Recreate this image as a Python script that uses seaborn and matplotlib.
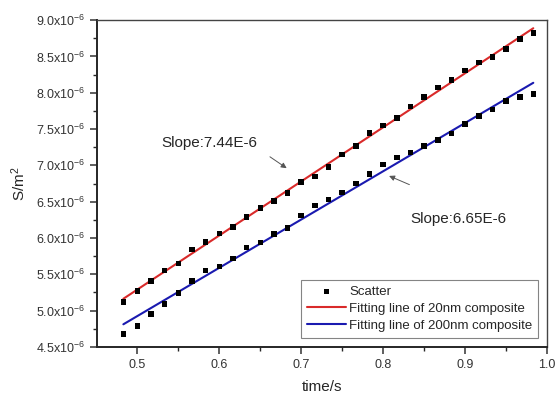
import numpy as np
import pandas as pd
import seaborn as sns
import matplotlib.pyplot as plt
import matplotlib.ticker as ticker

# data, S/m^2 values in units of 1e-6
time_s = [0.483, 0.500, 0.517, 0.533, 0.550, 0.567, 0.583, 0.600, 0.617, 0.633,
          0.650, 0.667, 0.683, 0.700, 0.717, 0.733, 0.750, 0.767, 0.783, 0.800,
          0.817, 0.833, 0.850, 0.867, 0.883, 0.900, 0.917, 0.933, 0.950, 0.967, 0.983]
s_20nm = [5.12, 5.27, 5.41, 5.55, 5.65, 5.84, 5.945, 6.06, 6.15, 6.29,
          6.41, 6.51, 6.62, 6.775, 6.85, 6.98, 7.15, 7.27, 7.45, 7.55,
          7.65, 7.81, 7.945, 8.07, 8.175, 8.31, 8.42, 8.49, 8.60, 8.74, 8.825]
s_200nm = [4.68, 4.79, 4.955, 5.09, 5.24, 5.41, 5.55, 5.605, 5.72, 5.87,
           5.94, 6.055, 6.14, 6.31, 6.445, 6.53, 6.625, 6.75, 6.88, 7.01,
           7.11, 7.18, 7.27, 7.35, 7.44, 7.57, 7.68, 7.77, 7.885, 7.945, 7.98]
series_labels = ["Fitting line of 20nm composite", "Fitting line of 200nm composite"]
slope_labels = ["Slope:7.44E-6", "Slope:6.65E-6"]

df = pd.DataFrame({"t": time_s, "s20": s_20nm, "s200": s_200nm})

sns.set_style("ticks")
plt.rcParams['font.family'] = ['Liberation Sans', 'DejaVu Sans']
plt.rcParams['mathtext.fontset'] = 'custom'
plt.rcParams['mathtext.rm'] = 'Liberation Sans'
plt.rcParams['mathtext.it'] = 'Liberation Sans'

fig = plt.figure(figsize=(5.55, 3.96), dpi=100)
axs = fig.add_axes([0.175, 0.124, 0.811, 0.825])

red = '#d92a2a'
blue = '#1a1ab0'

sns.scatterplot(x="t", y="s20", data=df, color='black', marker='s', s=16,
                edgecolor='none', label='Scatter', ax=axs, zorder=3)
sns.scatterplot(x="t", y="s200", data=df, color='black', marker='s', s=16,
                edgecolor='none', ax=axs, zorder=3)
sns.regplot(x="t", y="s20", data=df, scatter=False, ci=None, ax=axs,
            label=series_labels[0], line_kws=dict(color=red, lw=1.5))
sns.regplot(x="t", y="s200", data=df, scatter=False, ci=None, ax=axs,
            label=series_labels[1], line_kws=dict(color=blue, lw=1.5))

axs.set_xlim(0.451, 1.0)
axs.set_ylim(4.5, 9.0)
axs.xaxis.set_major_locator(ticker.MultipleLocator(0.1))
axs.xaxis.set_minor_locator(ticker.MultipleLocator(0.05))
axs.yaxis.set_major_locator(ticker.MultipleLocator(0.5))
axs.yaxis.set_minor_locator(ticker.MultipleLocator(0.25))
axs.xaxis.set_major_formatter(ticker.FuncFormatter(lambda v, p: f"{v:.1f}"))
axs.yaxis.set_major_formatter(ticker.FuncFormatter(lambda v, p: f"{v:.1f}x10$^{{-6}}$"))
axs.tick_params(which='major', direction='out', length=5, width=1.1, labelsize=9, colors='#333333')
axs.tick_params(which='minor', direction='out', length=3, width=1.0)
for side in ['left', 'bottom']:
    axs.spines[side].set_linewidth(1.4)
for side in ['top', 'right']:
    axs.spines[side].set_linewidth(1.0)
    axs.spines[side].set_color('#444444')

axs.set_xlabel("time/s", fontsize=11, labelpad=7)
axs.set_ylabel("S/m$^2$", fontsize=11, labelpad=6)

arrow = dict(arrowstyle='-|>', color='#555555', lw=0.7, mutation_scale=8)
axs.annotate("", xy=(0.685, 6.94), xytext=(0.659, 7.14), arrowprops=arrow)
axs.annotate("", xy=(0.804, 6.87), xytext=(0.835, 6.72), arrowprops=arrow)
axs.text(0.529, 7.31, slope_labels[0], fontsize=11, va='center', ha='left')
axs.text(0.833, 6.26, slope_labels[1], fontsize=11, va='center', ha='left')

leg = axs.legend(loc='lower right', bbox_to_anchor=(0.98, 0.028), fontsize=9.5,
                 handlelength=3.0, fancybox=False, frameon=True, borderpad=0.45,
                 labelspacing=0.35, handletextpad=0.2, borderaxespad=0)
leg.get_frame().set_edgecolor('#666666')
leg.get_frame().set_linewidth(0.8)

fig.savefig("out.png", dpi=100)
